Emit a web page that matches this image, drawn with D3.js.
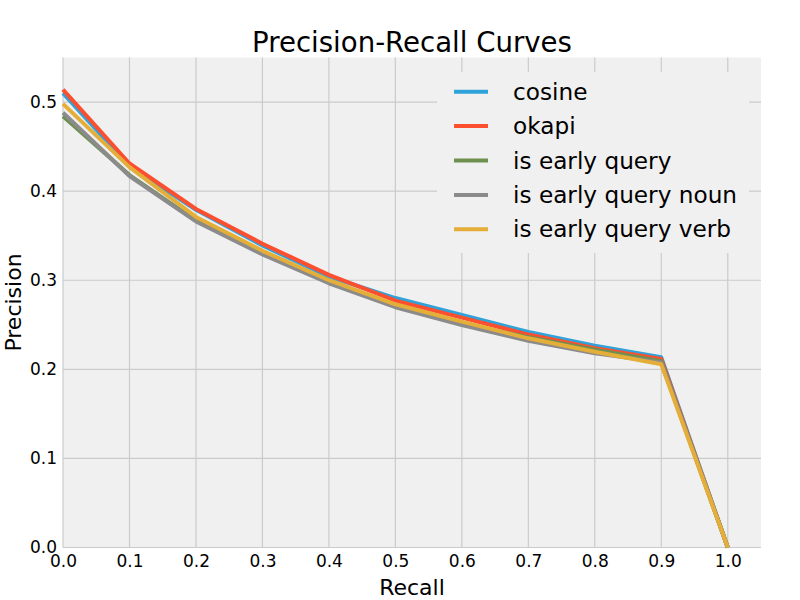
<!DOCTYPE html>
<html>
<head>
<meta charset="utf-8">
<script src="https://cdn.jsdelivr.net/npm/d3@7"></script>
<style>
  body { margin: 0; background: #fff; }
  text { font-family: "DejaVu Sans", sans-serif; fill: #000; }
</style>
</head>
<body>
<script>
var recall = [0.0, 0.1, 0.2, 0.3, 0.4, 0.5, 0.6, 0.7, 0.8, 0.9, 1.0];

var cosine = [0.510, 0.428, 0.379, 0.339, 0.304, 0.280, 0.261, 0.242, 0.2265, 0.2135, 0.0];
var okapi = [0.514, 0.431, 0.380, 0.341, 0.306, 0.277, 0.258, 0.239, 0.2236, 0.2116, 0.0];
var earlyQuery = [0.484, 0.418, 0.367, 0.330, 0.298, 0.271, 0.251, 0.236, 0.222, 0.209, 0.0];
var earlyQueryNoun = [0.488, 0.417, 0.366, 0.329, 0.2966, 0.2697, 0.2497, 0.232, 0.218, 0.2078, 0.0];
var earlyQueryVerb = [0.498, 0.427, 0.371, 0.333, 0.300, 0.273, 0.2535, 0.2348, 0.2198, 0.2056, 0.0];

var seriesNames = ["cosine", "okapi", "is early query", "is early query noun", "is early query verb"];
var seriesValues = [cosine, okapi, earlyQuery, earlyQueryNoun, earlyQueryVerb];
var colors = ["#30a2da", "#fc4f30", "#6d904f", "#8b8b8b", "#e5ae38"];

var xTicks = [0.0, 0.1, 0.2, 0.3, 0.4, 0.5, 0.6, 0.7, 0.8, 0.9, 1.0];
var yTicks = [0.0, 0.1, 0.2, 0.3, 0.4, 0.5];

var width = 800,
  height = 600,
  margin = { top: 57.5, right: 39, bottom: 52.5, left: 63 };

var svg = d3.select("body").append("svg")
  .attr("width", width)
  .attr("height", height);

var x = d3.scaleLinear().domain([0, 1.05]).range([margin.left, width - margin.right]);
var y = d3.scaleLinear().domain([0, 0.55]).range([height - margin.bottom, margin.top]);

// axes background
svg.append("rect")
  .attr("x", x(0))
  .attr("y", y(0.55))
  .attr("width", x(1.05) - x(0))
  .attr("height", y(0) - y(0.55))
  .attr("fill", "#f0f0f0");

// grid
svg.append("g")
  .selectAll("line")
  .data(xTicks)
  .enter().append("line")
  .attr("x1", function (d) { return x(d); })
  .attr("x2", function (d) { return x(d); })
  .attr("y1", y(0))
  .attr("y2", y(0.55))
  .attr("stroke", "#cbcbcb")
  .attr("stroke-width", 1.2);

svg.append("g")
  .selectAll("line")
  .data(yTicks)
  .enter().append("line")
  .attr("x1", x(0))
  .attr("x2", x(1.05))
  .attr("y1", function (d) { return y(d); })
  .attr("y2", function (d) { return y(d); })
  .attr("stroke", "#cbcbcb")
  .attr("stroke-width", 1.2);

// axes (labels only, no domain, no ticks)
var xAxis = svg.append("g")
  .attr("transform", "translate(0," + y(0) + ")")
  .call(d3.axisBottom(x).tickValues(xTicks).tickFormat(d3.format(".1f")).tickSize(0).tickPadding(6));
xAxis.select(".domain").remove();
xAxis.selectAll("text")
  .style("font-family", "DejaVu Sans")
  .style("font-size", "17px")
  .attr("dy", "0.71em")
  .attr("y", 7);

var yAxis = svg.append("g")
  .attr("transform", "translate(" + x(0) + ",0)")
  .call(d3.axisLeft(y).tickValues(yTicks).tickFormat(d3.format(".1f")).tickSize(0).tickPadding(6));
yAxis.select(".domain").remove();
yAxis.selectAll("text")
  .style("font-family", "DejaVu Sans")
  .style("font-size", "17px")
  .attr("dy", "0.3em");

// lines
var line = d3.line()
  .x(function (d, i) { return x(recall[i]); })
  .y(function (d) { return y(d); });

svg.append("g")
  .selectAll("path")
  .data(seriesValues)
  .enter().append("path")
  .attr("d", line)
  .attr("fill", "none")
  .attr("stroke", function (d, i) { return colors[i]; })
  .attr("stroke-width", 4)
  .attr("stroke-linejoin", "round");

// title and labels
svg.append("text")
  .attr("x", (x(0) + x(1.05)) / 2)
  .attr("y", 51.7)
  .attr("text-anchor", "middle")
  .style("font-size", "27.6px")
  .text("Precision-Recall Curves");

svg.append("text")
  .attr("x", (x(0) + x(1.05)) / 2)
  .attr("y", 595)
  .attr("text-anchor", "middle")
  .style("font-size", "22px")
  .text("Recall");

svg.append("text")
  .attr("transform", "translate(20.5," + (y(0) + y(0.55)) / 2 + ") rotate(-90)")
  .attr("text-anchor", "middle")
  .style("font-size", "22px")
  .text("Precision");

// legend
var legend = svg.append("g");
legend.append("rect")
  .attr("x", 437)
  .attr("y", 72)
  .attr("width", 312)
  .attr("height", 181)
  .attr("fill", "#f0f0f0");

var items = legend.selectAll("g.item")
  .data(seriesNames)
  .enter().append("g")
  .attr("class", "item")
  .attr("transform", function (d, i) { return "translate(0," + (91.7 + i * 34.4) + ")"; });

items.append("line")
  .attr("x1", 454)
  .attr("x2", 488)
  .attr("stroke", function (d, i) { return colors[i]; })
  .attr("stroke-width", 4);

items.append("text")
  .attr("x", 513)
  .attr("dy", "0.35em")
  .style("font-size", "23.2px")
  .text(function (d) { return d; });
</script>
</body>
</html>
